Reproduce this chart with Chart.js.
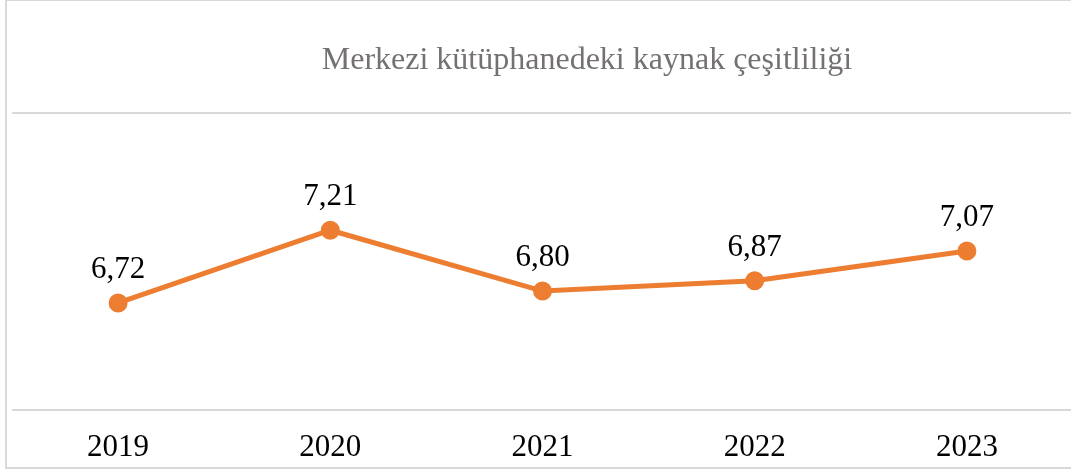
<!DOCTYPE html>
<html lang="tr">
<head>
    <meta charset="UTF-8">
    <title>Merkezi kütüphanedeki kaynak çeşitliliği</title>
    <script src="https://cdn.jsdelivr.net/npm/chart.js"></script>
    <style>
        body {
    margin: 0;
    background: #fff;
    overflow: hidden;
}

.frame {
    position: absolute;
    left: 5px;
    top: -1px;
    width: 1200px;
    height: 466px;
    border: 2px solid #d9d9d9;
}

.wrap {
    position: absolute;
    left: 0;
    top: 0;
    width: 1085px;
    height: 490px;
}
    </style>
</head>
<body>

    <div class="frame"></div>
    <div class="wrap">
        <canvas id="lineChart"></canvas>
    </div>

    <script>
let chartTitle = "Merkezi kütüphanedeki kaynak çeşitliliği";
let years = ["2019", "2020", "2021", "2022", "2023"];
let values = [6.72, 7.21, 6.80, 6.87, 7.07];
let yTicks = [6, 8];

let orange = '#ED7D31';
let serif = "'Liberation Serif', 'Times New Roman', serif";

// title sits a bit right of centre in the original
let titlePlugin = {
    id: 'titleText',
    afterDraw(chart) {
        let ctx = chart.ctx;
        ctx.save();
        ctx.font = "32px " + serif;
        ctx.fillStyle = '#757171';
        ctx.textAlign = 'center';
        ctx.textBaseline = 'alphabetic';
        ctx.fillText(chartTitle, 587, 69);
        ctx.restore();
    }
};

let labelPlugin = {
    id: 'valueLabels',
    afterDatasetsDraw(chart) {
        let ctx = chart.ctx;
        let meta = chart.getDatasetMeta(0);
        ctx.save();
        ctx.font = "31px " + serif;
        ctx.fillStyle = '#000';
        ctx.textAlign = 'center';
        ctx.textBaseline = 'alphabetic';
        meta.data.forEach((pt, i) => {
            let txt = values[i].toFixed(2).replace('.', ',');
            ctx.fillText(txt, pt.x, pt.y - 25);
        });
        ctx.restore();
    }
};

let ctx1 = document.getElementById('lineChart').getContext('2d');
let lineChart = new Chart(ctx1, {
    type: 'line',
    data: {
        labels: years,
        datasets: [{
            data: values,
            borderColor: orange,
            backgroundColor: orange,
            borderWidth: 5,
            pointRadius: 7,
            pointHoverRadius: 7,
            pointBackgroundColor: orange,
            pointBorderColor: orange,
            fill: false,
            tension: 0
        }]
    },
    options: {
        responsive: true,
        maintainAspectRatio: false,
        animation: false,
        layout: {
            padding: { top: 113, left: 11, right: 6, bottom: 5 }
        },
        scales: {
            x: {
                offset: true,
                grid: { display: false, drawTicks: false },
                border: { display: false },
                ticks: {
                    color: '#000',
                    padding: 19,
                    font: { family: serif, size: 31 }
                }
            },
            y: {
                min: yTicks[0],
                max: yTicks[yTicks.length - 1],
                afterBuildTicks: axis => {
                    axis.ticks = yTicks.map(v => ({ value: v }));
                },
                grid: { color: '#d9d9d9', lineWidth: 2, drawTicks: false },
                border: { display: false },
                ticks: { display: false }
            }
        },
        plugins: {
            legend: { display: false },
            title: { display: false },
            tooltip: { enabled: false }
        }
    },
    plugins: [titlePlugin, labelPlugin]
});
    </script>
</body>
</html>
